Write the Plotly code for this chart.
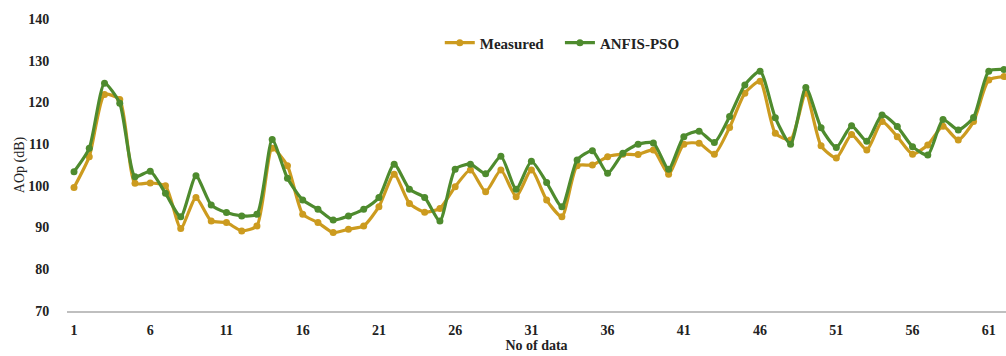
import plotly.graph_objects as go

data_no = list(range(1, 63))

measured = [99.6, 107.0, 121.9, 120.7, 100.6, 100.7, 100.0, 89.8, 97.2, 91.6,
            91.2, 89.2, 90.4, 109.0, 104.8, 93.2, 91.2, 88.8, 89.6, 90.4,
            95.0, 102.8, 95.8, 93.7, 94.6, 99.8, 103.8, 98.6, 103.8, 97.4,
            103.8, 96.6, 92.6, 104.8, 105.0, 107.0, 107.6, 107.5, 108.6, 102.8,
            110.0, 110.2, 107.6, 114.0, 122.2, 125.1, 112.6, 111.0, 122.2, 109.6,
            106.7, 112.3, 108.6, 115.4, 111.8, 107.6, 109.8, 114.3, 111.0, 115.4,
            125.4, 126.2]

anfis_pso = [103.4, 109.0, 124.6, 119.8, 102.2, 103.5, 98.2, 92.6, 102.4, 95.4,
             93.6, 92.8, 93.2, 111.1, 101.8, 96.6, 94.4, 91.8, 92.8, 94.4,
             97.2, 105.2, 99.2, 97.2, 91.6, 104.0, 105.2, 102.9, 107.1, 99.2,
             105.9, 100.8, 95.0, 106.2, 108.4, 103.0, 107.8, 110.0, 110.3, 104.0,
             111.8, 113.1, 110.4, 116.6, 124.2, 127.5, 116.3, 110.0, 123.6, 113.9,
             109.2, 114.4, 110.7, 117.0, 114.2, 109.4, 107.4, 115.9, 113.4, 116.4,
             127.5, 127.9]

x_ticks = list(range(1, 63, 5))
y_ticks = list(range(70, 141, 10))

gold = "#CC9B1F"
green = "#4E8B2E"

fig = go.Figure()
fig.add_trace(go.Scatter(x=data_no, y=measured, name="<b>Measured</b>   ", mode="lines+markers",
                         line=dict(color=gold, width=3.2, shape="spline", smoothing=0.6),
                         marker=dict(color=gold, size=7)))
fig.add_trace(go.Scatter(x=data_no, y=anfis_pso, name="<b>ANFIS-PSO</b>", mode="lines+markers",
                         line=dict(color=green, width=3.2, shape="spline", smoothing=0.6),
                         marker=dict(color=green, size=7)))

tick_font = dict(family="Liberation Serif", size=14, color="#222222")

fig.update_layout(
    width=1006, height=356,
    margin=dict(l=67, r=0, t=19, b=45, autoexpand=False),
    paper_bgcolor="white", plot_bgcolor="white",
    showlegend=True,
    legend=dict(orientation="h", x=0.397, y=0.918, xanchor="left", yanchor="middle",
                font=dict(family="Liberation Serif", size=15, color="#222222"),
                bgcolor="rgba(0,0,0,0)", itemwidth=30, tracegroupgap=0),
    xaxis=dict(range=[0.54, 62.13], tickmode="array", tickvals=x_ticks,
               ticktext=[f"<b>{v}</b>" for v in x_ticks], automargin=False,
               showgrid=False, zeroline=False, showline=True, linecolor="#BFBFBF", linewidth=1.5,
               ticks="outside", ticklen=5, tickcolor="white", tickfont=tick_font,
               title=dict(text="<b>No of data</b>", font=dict(family="Liberation Serif", size=14, color="#222222"),
                          standoff=0)),
    yaxis=dict(range=[70, 140], tickmode="array", tickvals=y_ticks,
               ticktext=[f"<b>{v}</b>" for v in y_ticks], automargin=False,
               showgrid=False, zeroline=False, showline=False,
               ticks="outside", ticklen=14, tickcolor="white", tickfont=tick_font,
               title=dict(text="AOp (dB)", font=dict(family="Liberation Serif", size=14, color="#222222"),
                          standoff=0)),
)

fig.write_html("out.html", config={"displayModeBar": False},
               post_script="document.body.style.margin='0';document.body.style.overflow='hidden';")
